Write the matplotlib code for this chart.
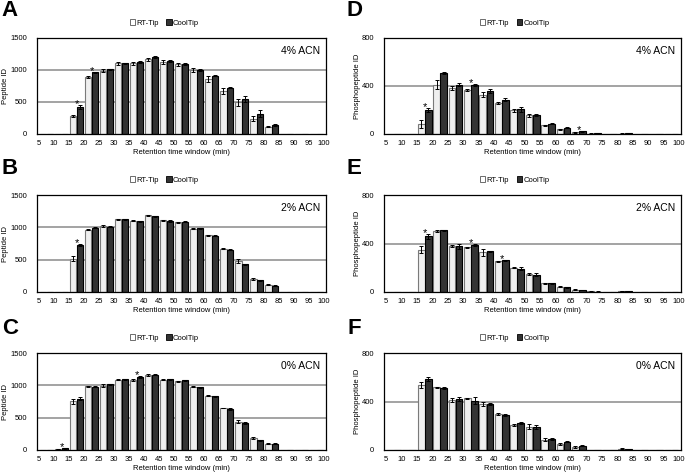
"""Peptide / phosphopeptide IDs per retention time window, RT-Tip vs CoolTip."""

import matplotlib

matplotlib.use("Agg")
import matplotlib.pyplot as plt
from matplotlib.patches import Patch

plt.rcParams["font.family"] = ["Liberation Sans", "DejaVu Sans"]

TICK_LABELS = ["5", "10", "15", "20", "25", "30", "35", "40", "45", "50",
               "55", "60", "65", "70", "75", "80", "85", "90", "95", "100"]

# one value per 5-min window: 5-10, 10-15, ..., 95-100
A_RT = [0, 0, 283, 889, 987, 1105, 1105, 1167, 1120, 1090, 997, 858, 668, 498, 242, 113, 0, 0, 0]
A_RT_ERR = [0, 0, 10, 10, 25, 20, 25, 20, 30, 25, 35, 45, 50, 55, 40, 8, 0, 0, 0]
A_COOL = [0, 0, 427, 961, 1012, 1105, 1125, 1197, 1141, 1095, 1002, 910, 725, 550, 319, 139, 0, 0, 0]
A_COOL_ERR = [0, 0, 30, 8, 10, 8, 12, 15, 15, 12, 10, 10, 10, 45, 55, 10, 0, 0, 0]
A_STARS = [2, 3]

B_RT = [0, 0, 517, 962, 1019, 1122, 1102, 1184, 1107, 1076, 978, 879, 672, 476, 197, 109, 0, 0, 0]
B_RT_ERR = [0, 0, 40, 10, 12, 8, 10, 12, 10, 10, 8, 10, 8, 35, 12, 8, 0, 0, 0]
B_COOL = [0, 5, 724, 993, 1008, 1122, 1091, 1169, 1097, 1086, 983, 869, 657, 429, 181, 98, 0, 0, 0]
B_COOL_ERR = [0, 0, 15, 10, 8, 5, 10, 8, 10, 8, 8, 8, 8, 10, 8, 5, 0, 0, 0]
B_STARS = [2]

C_RT = [0, 15, 755, 986, 997, 1089, 1084, 1161, 1089, 1063, 981, 842, 652, 437, 180, 98, 0, 0, 0]
C_RT_ERR = [0, 5, 40, 10, 30, 5, 10, 10, 10, 10, 8, 10, 5, 25, 15, 5, 0, 0, 0]
C_COOL = [0, 25, 791, 976, 1017, 1094, 1125, 1166, 1094, 1079, 971, 832, 627, 421, 149, 98, 0, 0, 0]
C_COOL_ERR = [0, 5, 25, 8, 10, 8, 12, 8, 8, 8, 8, 8, 15, 15, 5, 5, 0, 0, 0]
C_STARS = [1, 6]

D_RT = [0, 0, 83, 411, 381, 364, 328, 259, 196, 155, 74, 41, 14, 4, 2, 4, 0, 0, 0]
D_RT_ERR = [0, 0, 36, 40, 17, 8, 20, 8, 10, 10, 5, 4, 3, 1, 1, 1, 0, 0, 0]
D_COOL = [0, 0, 199, 505, 411, 406, 356, 287, 207, 157, 86, 52, 22, 5, 2, 8, 0, 0, 0]
D_COOL_ERR = [0, 0, 15, 8, 15, 8, 15, 10, 20, 10, 6, 4, 3, 1, 1, 2, 0, 0, 0]
D_STARS = [2, 5, 12]

E_RT = [0, 0, 350, 502, 381, 370, 326, 254, 199, 146, 72, 44, 19, 5, 3, 8, 0, 0, 0]
E_RT_ERR = [0, 0, 30, 10, 10, 5, 25, 5, 5, 8, 5, 5, 5, 1, 1, 2, 0, 0, 0]
E_COOL = [0, 0, 461, 510, 378, 386, 337, 262, 193, 143, 72, 39, 17, 4, 3, 8, 0, 0, 0]
E_COOL_ERR = [0, 0, 20, 5, 20, 10, 5, 5, 15, 10, 5, 3, 3, 1, 1, 2, 0, 0, 0]
E_STARS = [2, 5, 7]

F_RT = [0, 0, 539, 517, 414, 425, 378, 297, 206, 192, 86, 53, 22, 3, 1, 11, 0, 0, 0]
F_RT_ERR = [0, 0, 25, 5, 15, 5, 15, 8, 5, 20, 10, 8, 8, 1, 1, 3, 0, 0, 0]
F_COOL = [0, 0, 586, 508, 419, 408, 383, 289, 222, 189, 89, 67, 36, 3, 1, 6, 0, 0, 0]
F_COOL_ERR = [0, 0, 15, 8, 15, 25, 8, 8, 5, 15, 8, 5, 5, 1, 1, 2, 0, 0, 0]
F_STARS = []

RT_FACE, RT_EDGE = "#efefef", "#7a7a7a"
COOL_FACE, COOL_EDGE = "#333333", "#000000"
FS = 5.5
W = 688.0
H = 476.0


def _rect(left, top, right, bottom):
    return [left / W, 1 - bottom / H, (right - left) / W, (bottom - top) / H]


def panel(fig, rect, letter, rt, rt_err, cool, cool_err, stars,
          ymax, yticks, grid, ylabel, acn, letter_xy, ylabel_px):
    ax = fig.add_axes(rect)
    n = len(rt)
    centers = [i + 0.5 for i in range(n)]
    bw = 0.44
    x_rt = [c - 0.23 for c in centers]
    x_cool = [c + 0.23 for c in centers]
    ax.bar(x_rt, rt, bw, color=RT_FACE, edgecolor=RT_EDGE, linewidth=0.8, zorder=2)
    ax.bar(x_cool, cool, bw, color=COOL_FACE, edgecolor=COOL_EDGE, linewidth=0.8, zorder=2)

    for xs, ys, es in [(x_rt, rt, rt_err), (x_cool, cool, cool_err)]:
        keep = [i for i in range(n) if ys[i] > 0 and es[i] > 0]
        ax.errorbar([xs[i] for i in keep], [ys[i] for i in keep],
                    yerr=[es[i] for i in keep], fmt="none", ecolor="black",
                    elinewidth=0.7, capsize=1.4, capthick=0.7, zorder=3)

    for i in stars:
        top = max(rt[i] + rt_err[i], cool[i] + cool_err[i])
        ax.annotate("*", (centers[i], top), xytext=(0, -1.5),
                    textcoords="offset points", ha="center", va="baseline",
                    fontsize=8, zorder=4)

    for g in grid:
        ax.axhline(g, color="#8a8a8a", linewidth=1.1, zorder=1)

    ax.set_xlim(-0.14, 19.12)
    ax.set_ylim(0, ymax)
    ax.set_xticks(range(len(TICK_LABELS)))
    ax.set_xticklabels(TICK_LABELS)
    ax.set_yticks(yticks)
    ax.tick_params(length=0, labelsize=FS)
    ax.tick_params(axis="y", pad=7)
    ax.tick_params(axis="x", pad=4)
    for s in ax.spines.values():
        s.set_linewidth(0.9)
        s.set_color("black")

    ax.set_xlabel("Retention time window (min)", fontsize=FS, labelpad=2)
    ax.set_ylabel(ylabel, fontsize=FS)
    # label coords are for the right edge of the rotated label
    ax.yaxis.set_label_coords(-ylabel_px / (rect[2] * W), 0.5)

    ax.text(1 - 6 / (rect[2] * W), 1 - 13 / (rect[3] * H), acn,
            transform=ax.transAxes, ha="right", va="center", fontsize=7.5)

    handles = [Patch(facecolor="white", edgecolor="#555555", linewidth=0.6),
               Patch(facecolor=COOL_FACE, edgecolor=COOL_EDGE, linewidth=0.6)]
    ax.legend(handles, ["RT-Tip", "CoolTip"], loc="center", ncol=2,
              bbox_to_anchor=(0.44, 1 + 15 / (rect[3] * H)), frameon=False,
              fontsize=FS, handlelength=0.7, handleheight=0.7,
              handletextpad=0.15, columnspacing=1.0, borderaxespad=0)

    fig.text(letter_xy[0] / W, 1 - letter_xy[1] / H, letter, fontsize=16,
             fontweight="bold", ha="center", va="center")
    return ax


def main():
    fig = plt.figure(figsize=(6.88, 4.76), dpi=100)
    pep = dict(ymax=1500, yticks=[0, 500, 1000, 1500], grid=[500, 1000],
               ylabel="Peptide ID", ylabel_px=28)
    pho = dict(ymax=800, yticks=[0, 400, 800], grid=[400],
               ylabel="Phosphopeptide ID", ylabel_px=23)

    panel(fig, _rect(37, 38, 326, 134), "A", A_RT, A_RT_ERR, A_COOL, A_COOL_ERR,
          A_STARS, acn="4% ACN", letter_xy=(10, 11), **pep)
    panel(fig, _rect(37, 195, 326, 292), "B", B_RT, B_RT_ERR, B_COOL, B_COOL_ERR,
          B_STARS, acn="2% ACN", letter_xy=(10, 168), **pep)
    panel(fig, _rect(37, 353, 326, 450), "C", C_RT, C_RT_ERR, C_COOL, C_COOL_ERR,
          C_STARS, acn="0% ACN", letter_xy=(10, 328), **pep)
    panel(fig, _rect(384, 38, 681, 134), "D", D_RT, D_RT_ERR, D_COOL, D_COOL_ERR,
          D_STARS, acn="4% ACN", letter_xy=(354, 11), **pho)
    panel(fig, _rect(384, 195, 681, 292), "E", E_RT, E_RT_ERR, E_COOL, E_COOL_ERR,
          E_STARS, acn="2% ACN", letter_xy=(354, 168), **pho)
    panel(fig, _rect(384, 353, 681, 450), "F", F_RT, F_RT_ERR, F_COOL, F_COOL_ERR,
          F_STARS, acn="0% ACN", letter_xy=(354, 328), **pho)

    fig.savefig("out.png", dpi=100)
    plt.close(fig)


if __name__ == "__main__":
    main()
